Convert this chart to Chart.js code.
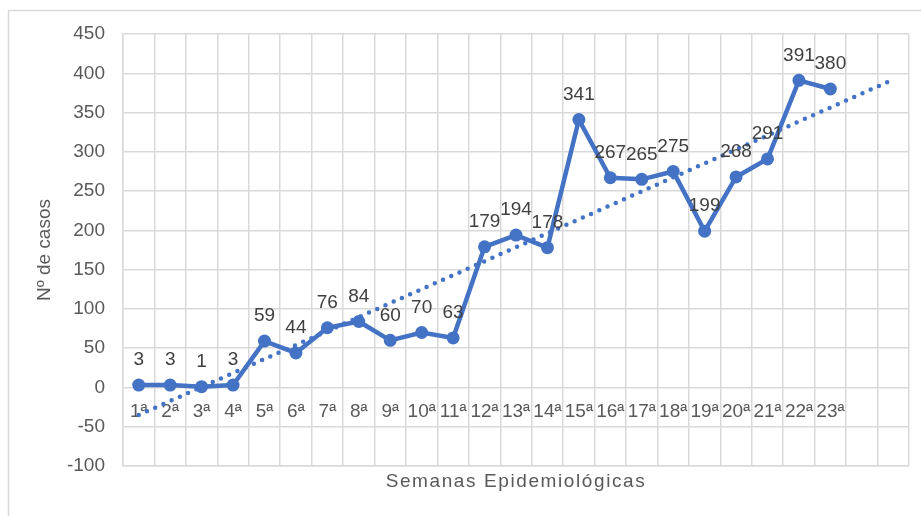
<!DOCTYPE html>
<html>
<head>
<meta charset="utf-8">
<style>
  html, body { margin: 0; padding: 0; background: #ffffff; }
  canvas { display: block; }
</style>
<script src="https://cdn.jsdelivr.net/npm/chart.js@4/dist/chart.umd.min.js"></script>
</head>
<body>
<canvas id="c" width="921" height="516"></canvas>
<script>
// ---- data ----
const weeks = ['1ª','2ª','3ª','4ª','5ª','6ª','7ª','8ª','9ª','10ª','11ª','12ª','13ª','14ª','15ª','16ª','17ª','18ª','19ª','20ª','21ª','22ª','23ª'];
const forecastSlots = ['', ''];           // two empty periods the trendline runs into
const cases = [3, 3, 1, 3, 59, 44, 76, 84, 60, 70, 63, 179, 194, 178, 341, 267, 265, 275, 199, 268, 291, 391, 380];
const trendStart = -35;                    // trendline value at 1ª (read)
const trendEnd = 392;                      // trendline value at the last (forecast) slot (read)
const yTicks = { min: -100, max: 450, step: 50 };
const xTitle = 'Semanas Epidemiológicas';
const yTitle = 'Nº de casos';

// ---- build chart inputs ----
const labels = weeks.concat(forecastSlots);
const lineData = cases.concat(forecastSlots.map(() => null));
const trendData = labels.map((_, i) => i === 0 ? trendStart : (i === labels.length - 1 ? trendEnd : null));

const FONT = '"Liberation Sans", Arial, sans-serif';
const BLUE = '#4472C4';
const GRID = '#d9d9d9';
const TICK = '#595959';

const frameAndPatch = {
  id: 'frameAndPatch',
  beforeDraw(chart) {
    const ctx = chart.ctx;
    ctx.save();
    ctx.fillStyle = '#ffffff';
    ctx.fillRect(0, 0, chart.width, chart.height);
    ctx.strokeStyle = GRID;
    ctx.lineWidth = 1.5;
    ctx.strokeRect(8.5, 10.5, 2000, 2000);
    ctx.restore();
    const xs = chart.scales.x;
    if (xs && !xs._patchedTitle) {
      const orig = xs.drawTitle;
      xs.drawTitle = function () {
        this.ctx.save();
        this.ctx.letterSpacing = '1.6px';
        orig.call(this);
        this.ctx.restore();
      };
      xs._patchedTitle = true;
    }
  }
};

const valueLabels = {
  id: 'valueLabels',
  afterDatasetsDraw(chart) {
    const ctx = chart.ctx;
    const meta = chart.getDatasetMeta(0);
    ctx.save();
    ctx.font = '19px ' + FONT;
    ctx.fillStyle = '#404040';
    ctx.textAlign = 'center';
    ctx.textBaseline = 'middle';
    meta.data.forEach((pt, i) => {
      const v = chart.data.datasets[0].data[i];
      if (v === null || v === undefined) return;
      ctx.fillText(String(v), pt.x, pt.y - 25);
    });
    ctx.restore();
  }
};

new Chart(document.getElementById('c'), {
  type: 'line',
  data: {
    labels: labels,
    datasets: [
      {
        label: yTitle,
        data: lineData,
        borderColor: BLUE,
        backgroundColor: BLUE,
        borderWidth: 4.5,
        pointRadius: 6.5,
        pointBackgroundColor: BLUE,
        pointBorderWidth: 0,
        tension: 0,
        xAxisID: 'x',
        yAxisID: 'y',
        order: 1
      },
      {
        label: 'Tendencia',
        data: trendData,
        spanGaps: true,
        borderColor: BLUE,
        borderWidth: 4.5,
        borderDash: [0, 9],
        borderCapStyle: 'round',
        pointRadius: 0,
        tension: 0,
        xAxisID: 'x',
        yAxisID: 'y',
        order: 2
      }
    ]
  },
  options: {
    responsive: false,
    animation: false,
    devicePixelRatio: 1,
    layout: { padding: { top: 34, right: 12, left: 0, bottom: 0 } },
    plugins: {
      legend: { display: false },
      tooltip: { enabled: false }
    },
    scales: {
      x: {
        type: 'category',
        position: 'bottom',
        offset: true,
        grid: { display: true, offset: true, color: GRID, lineWidth: 1.5, drawTicks: false },
        border: { display: true, color: GRID, width: 1.5 },
        ticks: { display: false },
        title: {
          display: true,
          text: xTitle,
          color: TICK,
          font: { family: FONT, size: 19, lineHeight: 1.2 },
          padding: { top: 0, bottom: 22.6 }
        },
        afterFit(scale) { scale.height = 50; }
      },
      x2: {
        type: 'category',
        position: { y: 0 },
        offset: true,
        grid: { display: false, drawTicks: false },
        border: { display: false },
        ticks: {
          color: TICK,
          font: { family: FONT, size: 19 },
          padding: 13,
          maxRotation: 0,
          autoSkip: false
        }
      },
      y: {
        type: 'linear',
        position: 'left',
        min: yTicks.min,
        max: yTicks.max,
        grid: { color: GRID, lineWidth: 1.5, drawTicks: false },
        border: { display: true, color: GRID, width: 1.5 },
        ticks: {
          stepSize: yTicks.step,
          color: TICK,
          font: { family: FONT, size: 19 },
          padding: 18
        },
        title: {
          display: true,
          text: yTitle,
          color: TICK,
          font: { family: FONT, size: 19, lineHeight: 1.2 },
          padding: { top: 33.6, bottom: 0 }
        },
        afterFit(scale) { scale.width = 123; }
      }
    }
  },
  plugins: [frameAndPatch, valueLabels]
});
</script>
</body>
</html>
